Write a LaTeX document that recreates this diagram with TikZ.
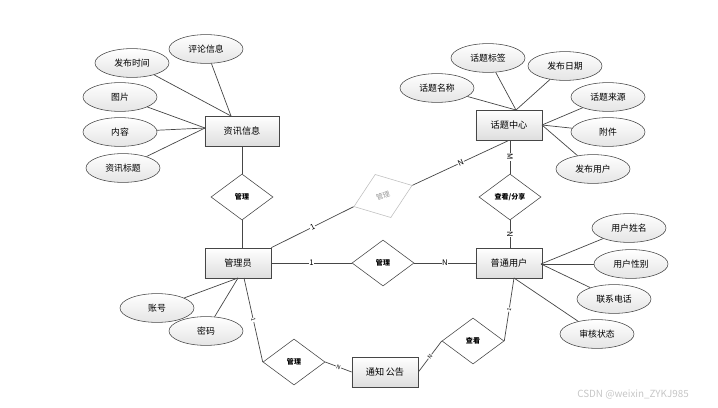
\documentclass[tikz,border=0pt]{standalone}
\usepackage{fontspec}
\setmainfont{Noto Sans CJK SC}
\usetikzlibrary{shapes.geometric,positioning}
\definecolor{erline}{RGB}{70,70,70}
\definecolor{erfill}{RGB}{222,222,222}
\tikzset{
  entity/.style={draw=erline, rectangle, minimum width=1.65cm, minimum height=0.75cm,
                 top color=white, bottom color=erfill, line width=0.5pt,
                 font=\fontsize{6.5}{8}\selectfont, inner sep=1pt},
  attr/.style={draw=erline, ellipse, minimum width=1.85cm, minimum height=0.72cm,
               top color=white, bottom color=erfill!80, line width=0.4pt,
               font=\fontsize{6.3}{8}\selectfont, inner sep=0pt},
  rel/.style={draw=erline, diamond, minimum width=1.55cm, minimum height=1.15cm,
              fill=white, line width=0.4pt, inner sep=0pt,
              font=\fontsize{5}{6}\selectfont\bfseries},
  conn/.style={draw=erline, line width=0.5pt},
  card/.style={font=\fontsize{5.5}{6}\selectfont, fill=white, inner sep=0.4pt},
}
\begin{document}
\begin{tikzpicture}[x=0.025cm, y=-0.025cm]
\useasboundingbox (0,0) rectangle (718,408);

% ---------------- entities ----------------
\node[entity, minimum width=1.85cm] (info) at (242,131) {资讯信息};
\node[entity] (topic) at (509,125) {话题中心};
\node[entity] (admin) at (238,263) {管理员};
\node[entity] (user) at (509,263) {普通用户};
\node[entity] (notice) at (385,372) {通知\,公告};

% ---------------- relations ----------------
\node[rel] (r1) at (242,197) {管理};
\node[rel, draw=gray!50, rotate=20, text=gray!80, font=\fontsize{5}{6}\selectfont]
  (r2) at (383,196) {管理};
\node[rel] (r3) at (383,263) {管理};
\node[rel] (r4) at (510,197) {查看/分享};
\node[rel] (r5) at (294,362) {管理};
\node[rel] (r6) at (473,341) {查看};

% ---------------- attributes ----------------
\foreach \n/\x/\y/\t in {a1/206/49/评论信息, a2/132/63/发布时间, a3/120/97/图片,
                         a4/120/132/内容, a5/123/168/资讯标题} {
  \node[attr] (\n) at (\x,\y) {\t};
}
\foreach \n/\x/\y/\t in {b1/488/58/话题标签, b2/565/66/发布日期, b3/437/88/话题名称,
                         b4/608/97/话题来源, b5/608/132/附件, b6/593/169/发布用户} {
  \node[attr] (\n) at (\x,\y) {\t};
}
\foreach \n/\x/\y/\t in {c1/629/228/用户姓名, c2/631/264/用户性别,
                         c3/614/299/联系电话, c4/597/334/审核状态} {
  \node[attr] (\n) at (\x,\y) {\t};
}
\node[attr] (d1) at (157,308) {账号};
\node[attr] (d2) at (206,331) {密码};

% attribute lines, meeting at one point of the entity
\coordinate (infoT) at (231,116);
\coordinate (infoL) at (205,128);
\draw[conn] (a1) -- (infoT);
\draw[conn] (a2) -- (infoT);
\foreach \n in {a3,a4,a5} \draw[conn] (\n) -- (infoL);

\coordinate (topicT) at (516,110);
\coordinate (topicR) at (542,125);
\foreach \n in {b1,b2,b3} \draw[conn] (\n) -- (topicT);
\foreach \n in {b4,b5,b6} \draw[conn] (\n) -- (topicR);

\coordinate (userR) at (541,264);
\coordinate (userB) at (514,278);
\foreach \n in {c1,c2,c3} \draw[conn] (\n) -- (userR);
\draw[conn] (c4) -- (userB);

\coordinate (adminB) at (238,278);
\draw[conn] (d1) -- (adminB);
\draw[conn] (d2) -- (adminB);

% ---------------- relation lines ----------------
\draw[conn] (info) -- (r1);
\draw[conn] (r1) -- (admin.north -| r1);

\draw[conn] (admin.north east) -- node[card, sloped] {1} (r2.west);
\draw[conn] (r2.east) -- node[card, sloped, pos=0.5] {N} (topic.south);

\draw[conn] (admin) -- node[card] {1} (r3);
\draw[conn] (r3) -- node[card] {N} (user);

\draw[conn] (topic.south -| r4) -- node[card, rotate=-90] {M} (r4);
\draw[conn] (r4) -- node[card, rotate=-90] {N} (user.north -| r4);

\coordinate (adminB2) at (244,278);
\draw[conn] (adminB2) -- node[card, sloped, font=\fontsize{4}{5}\selectfont] {1} (r5.west);
\draw[conn] (r5.east) -- node[card, sloped, font=\fontsize{4}{5}\selectfont] {N} (notice.west);
\draw[conn] (notice.east) -- node[card, sloped, font=\fontsize{4}{5}\selectfont] {N} (r6.west);
\draw[conn] (r6.east) -- node[card, sloped, font=\fontsize{4}{5}\selectfont] {1} (userB);

% watermark
\node[font=\fontsize{7}{8}\selectfont, text=gray!45] (mark) at (633,395) {CSDN @weixin\_ZYKJ985};
\end{tikzpicture}
\end{document}
